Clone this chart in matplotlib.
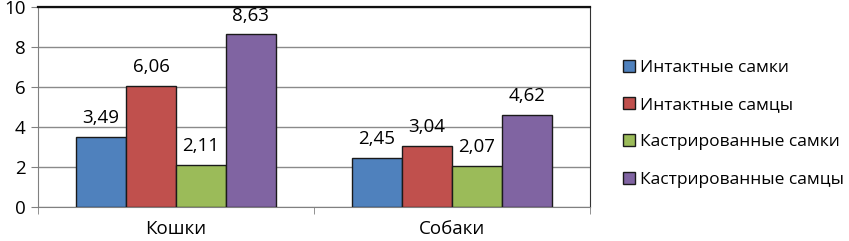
import matplotlib
matplotlib.use("Agg")
import matplotlib.pyplot as plt
import numpy as np
from matplotlib.patches import Patch

plt.rcParams['font.family'] = ['Open Sans', 'DejaVu Sans']

categories = ["Кошки", "Собаки"]
series_names = ["Интактные самки", "Интактные самцы",
                "Кастрированные самки", "Кастрированные самцы"]
values = [
    [3.49, 2.45],
    [6.06, 3.04],
    [2.11, 2.07],
    [8.63, 4.62],
]
colors = ["#4F81BD", "#C0504D", "#9BBB59", "#8064A2"]
yticks = [0, 2, 4, 6, 8, 10]

fig = plt.figure(figsize=(8.49, 2.41), dpi=100)
ax = fig.add_axes([38/849, 1 - 207/241, (590 - 38)/849, 200/241])

x = np.arange(len(categories))
width = 0.181
for i, (name, vals, c) in enumerate(zip(series_names, values, colors)):
    pos = x + (i - 1.5) * width
    bars = ax.bar(pos, vals, width, color=c, edgecolor="#1a1a1a", linewidth=1.0,
                  label=name, zorder=3)
    for b, v in zip(bars, vals):
        ax.annotate(("%.2f" % v).replace(".", ","),
                    (b.get_x() + b.get_width() / 2, v),
                    xytext=(0, 13.5), textcoords="offset points",
                    ha="center", va="center", fontsize=13.5, clip_on=False)

ax.set_xlim(-0.5, 1.5)
ax.set_ylim(0, 10)
ax.set_yticks(yticks)
ax.set_yticklabels([str(t) for t in yticks], fontsize=13.5)
ax.set_xticks(x)
ax.set_xticklabels(categories, fontsize=13.5)
ax.tick_params(axis="x", length=0, pad=9.5)
ax.set_xticks([-0.5, 0.5, 1.5], minor=True)
ax.tick_params(axis="x", which="minor", length=5, color="#808080", direction="out")
ax.tick_params(axis="y", length=5, color="#808080", pad=4)

ax.yaxis.grid(True, color="#8a8a8a", linewidth=1.0, zorder=0)
ax.set_axisbelow(True)
for s in ["left", "bottom"]:
    ax.spines[s].set_color("#808080")
ax.spines["top"].set_color("#111111")
ax.spines["top"].set_linewidth(1.6)
ax.spines["right"].set_color("#333333")

handles = [Patch(facecolor=c, edgecolor="#1a1a1a", linewidth=1.0) for c in colors]
fig.legend(handles, series_names, loc="upper left",
           bbox_to_anchor=(614/849, 1 - 51/241), frameon=False, fontsize=12.5,
           handlelength=0.7, handleheight=0.7, handletextpad=0.3,
           labelspacing=1.22, borderpad=0)

fig.savefig("out.png", dpi=100)
